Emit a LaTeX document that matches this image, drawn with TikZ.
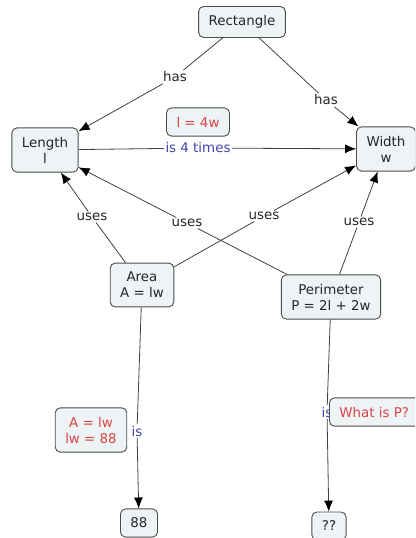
\documentclass[tikz,border=0pt]{standalone}
\usepackage{fontspec}
\setmainfont{DejaVu Sans}
\usetikzlibrary{arrows.meta}
\definecolor{cmapfill}{HTML}{EEF3F6}
\definecolor{cmapred}{HTML}{D94444}
\definecolor{cmapblue}{HTML}{4444B0}
\begin{document}
\begin{tikzpicture}[x=1pt,y=-1pt]
            \tikzstyle{every node}=[font=\fontsize{13.4}{16}\selectfont,text=black!85]
            \tikzstyle{concept}=[draw=black!70,line width=0.9pt,fill=cmapfill,rounded corners=5pt,align=center,inner xsep=10pt,inner ysep=9pt]
            \tikzstyle{note}=[concept,text=cmapred]
            \tikzstyle{phrase}=[fill=white,inner sep=1.5pt]
            \tikzstyle{link}=[black!75,line width=0.8pt]
            \tikzstyle{arr}=[link,-{Latex[length=11pt,width=9pt,color=black]}]
            \clip (0,0) rectangle (415,538);
            % concepts
            \draw (242,22) node [concept] (rect) {Rectangle};
            \draw (45,150) node [concept] (len) {Length\\l};
            \draw (386,149) node [concept] (wid) {Width\\w};
            \draw (142,285) node [concept] (area) {Area\\A = lw};
            \draw (331,297) node [concept] (peri) {Perimeter\\P = 2l + 2w};
            \draw (139,523) node [concept] (val) {88};
            \draw (329,526) node [concept] (unk) {??};
            % linking phrases
            \draw (175,77) node [phrase] (has1) {has};
            \draw (326,100) node [phrase] (has2) {has};
            \draw (198,148) node [phrase,text=cmapblue] (times) {is 4 times};
            \draw (92,217) node [phrase] (use1) {uses};
            \draw (187,223) node [phrase] (use2) {uses};
            \draw (264,216) node [phrase] (use3) {uses};
            \draw (359,222) node [phrase] (use4) {uses};
            \draw (137,431) node [phrase,text=cmapblue] (is1) {is};
            \draw (327,412) node [phrase,text=cmapblue] (is2) {is};
            % connections
            \draw[link] (rect) -- (has1);
            \draw[arr] (has1) -- (len);
            \draw[link] (rect) -- (has2);
            \draw[arr] (has2) -- (wid);
            \draw[link] (len) -- (times);
            \draw[arr] (times) -- (wid);
            \draw[link] (area) -- (use1);
            \draw[arr] (use1) -- (len);
            \draw[link] (peri) -- (use2);
            \draw[arr] (use2) -- (len);
            \draw[link] (area) -- (use3);
            \draw[arr] (use3) -- (wid);
            \draw[link] (peri) -- (use4);
            \draw[arr] (use4) -- (wid);
            \draw[link] (area) -- (is1);
            \draw[arr] (is1) -- (val);
            \draw[link] (peri) -- (is2);
            \draw[arr] (is2) -- (unk);
            % notes
            \draw (198,122) node [note] (eq) {l = 4w};
            \draw (91,430) node [note] (areanote) {A = lw\\lw = 88};
            \draw (329,412) node [note,anchor=west] (perinote) {What is P?};
        \end{tikzpicture}
\end{document}
